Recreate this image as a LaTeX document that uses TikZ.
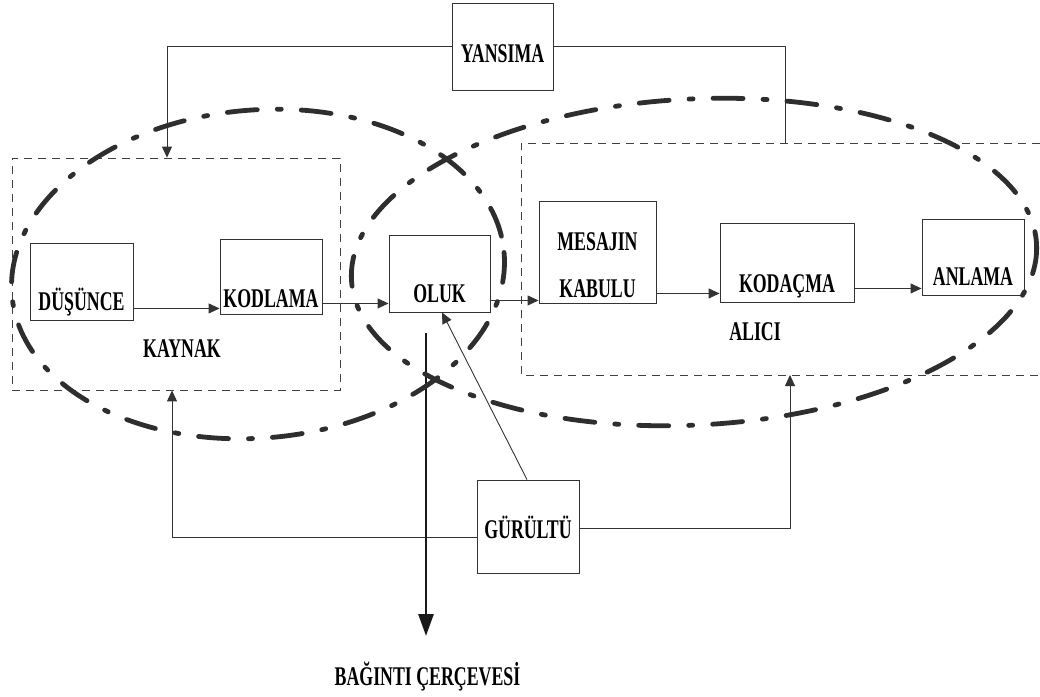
\documentclass[tikz,border=0pt]{standalone}
\usepackage{fontspec}
\setmainfont{Liberation Serif}[FakeStretch=0.66]
\usetikzlibrary{arrows.meta,calc}
\begin{document}
\begin{tikzpicture}[x=1pt,y=-1pt,
  font=\bfseries\fontsize{27}{32}\selectfont,
  thinline/.style={draw=black!80, line width=0.9pt},
  arr/.style={thinline, -{Triangle[length=11pt,width=10pt]}},
  bigarr/.style={draw=black!90, line width=2.8pt, -{Triangle[length=22pt,width=15pt]}},
  box/.style={draw=black!80, line width=0.9pt, inner sep=0pt},
  dashbox/.style={draw=black!75, line width=0.8pt, dash pattern=on 8pt off 6pt},
  bigdash/.style={draw=black!82, line width=4.8pt, line cap=round,
    dash pattern=on 30pt off 20pt on 4pt off 20pt},
  lbl/.style={anchor=base, inner sep=0pt}]
\useasboundingbox (0,0) rectangle (1040,696);

% source and receiver frames
\node[dashbox, minimum width=328pt, minimum height=232pt, inner sep=0pt] (src) at (176,274) {};
\coordinate (rTL) at (521,143);
\coordinate (rBL) at (521,375);
\draw[dashbox] (1040,143) -- (rTL) -- (rBL) -- (1040,375);

% process boxes
\node[box, minimum width=101pt, text height=59pt, text depth=28pt] (yan) at (502.5,46.5) {YANSIMA};
\node[box, minimum width=103pt, text height=67pt, text depth=10pt] (dus) at (81.5,281.5) {DÜŞÜNCE};
\node[box, minimum width=102pt, text height=68pt, text depth=7pt] (kod) at (271,276.5) {KODLAMA};
\node[box, minimum width=101pt, text height=67pt, text depth=10pt] (oluk) at (439.5,273.5) {OLUK};
\node[box, minimum width=117pt, text height=96pt, text depth=6pt, align=center] (mes) at (597.5,252) {MESAJIN\\[15pt]KABULU};
\node[box, minimum width=134pt, text height=69pt, text depth=10pt] (kdc) at (787,262.5) {KODA^^^^00c7MA};
\node[box, minimum width=102pt, text height=66pt, text depth=10pt] (anl) at (973,257) {ANLAMA};
\node[box, minimum width=102pt, text height=58pt, text depth=35pt] (gur) at (528,526.5) {GÜRÜLTÜ};

% frame labels
\node[lbl] (kay) at (182,357) {KAYNAK};
\node[lbl] (alc) at (755,340) {ALICI};
\node[lbl] (bag) at (427.5,685) {BAĞINTI ^^^^00c7ER^^^^00c7EVES^^^^0130};

% main chain
\coordinate (a1) at ([yshift=12pt]dus.south east);
\draw[arr] (a1) -- (a1 -| kod.west);
\coordinate (a2) at ([yshift=11pt]kod.south east);
\draw[arr] (a2) -- (a2 -| oluk.west);
\coordinate (a3) at ([yshift=12pt]oluk.south east);
\draw[arr] (a3) -- (a3 -| mes.west);
\coordinate (a4) at ([yshift=10pt]mes.south east);
\draw[arr] (a4) -- (a4 -| kdc.west);
\coordinate (a5) at ([yshift=14pt]kdc.south east);
\draw[arr] (a5) -- (a5 -| anl.west);

% feedback from YANSIMA
\coordinate (yl) at (167,46.5);
\draw[arr] (yan.west) -- (yl) -- (yl |- src.north);
\coordinate (yr) at (785,46.5);
\draw[thinline] (yan.east) -- (yr) -- (yr |- rTL);

% noise paths
\coordinate (gl) at (172,537);
\draw[arr] (gur.west |- gl) -- (gl) -- (gl |- src.south);
\coordinate (gr) at (790,528);
\draw[arr] (gur.east |- gr) -- (gr) -- (gr |- rBL);
\draw[arr] ([xshift=-1pt]gur.north) -- ([xshift=2.5pt]oluk.south);

% frame of reference
\coordinate (chTop) at (426,333);
\coordinate (chEnd) at (426,636);
\draw[bigarr] (chTop) -- (chEnd);

% overlapping fields of experience
\draw[bigdash, rotate around={5:(258,274)}] (258,274) ellipse [x radius=247, y radius=164];
\draw[bigdash, rotate around={3:(694,262)}] (694,262) ellipse [x radius=343, y radius=163];
\end{tikzpicture}
\end{document}
